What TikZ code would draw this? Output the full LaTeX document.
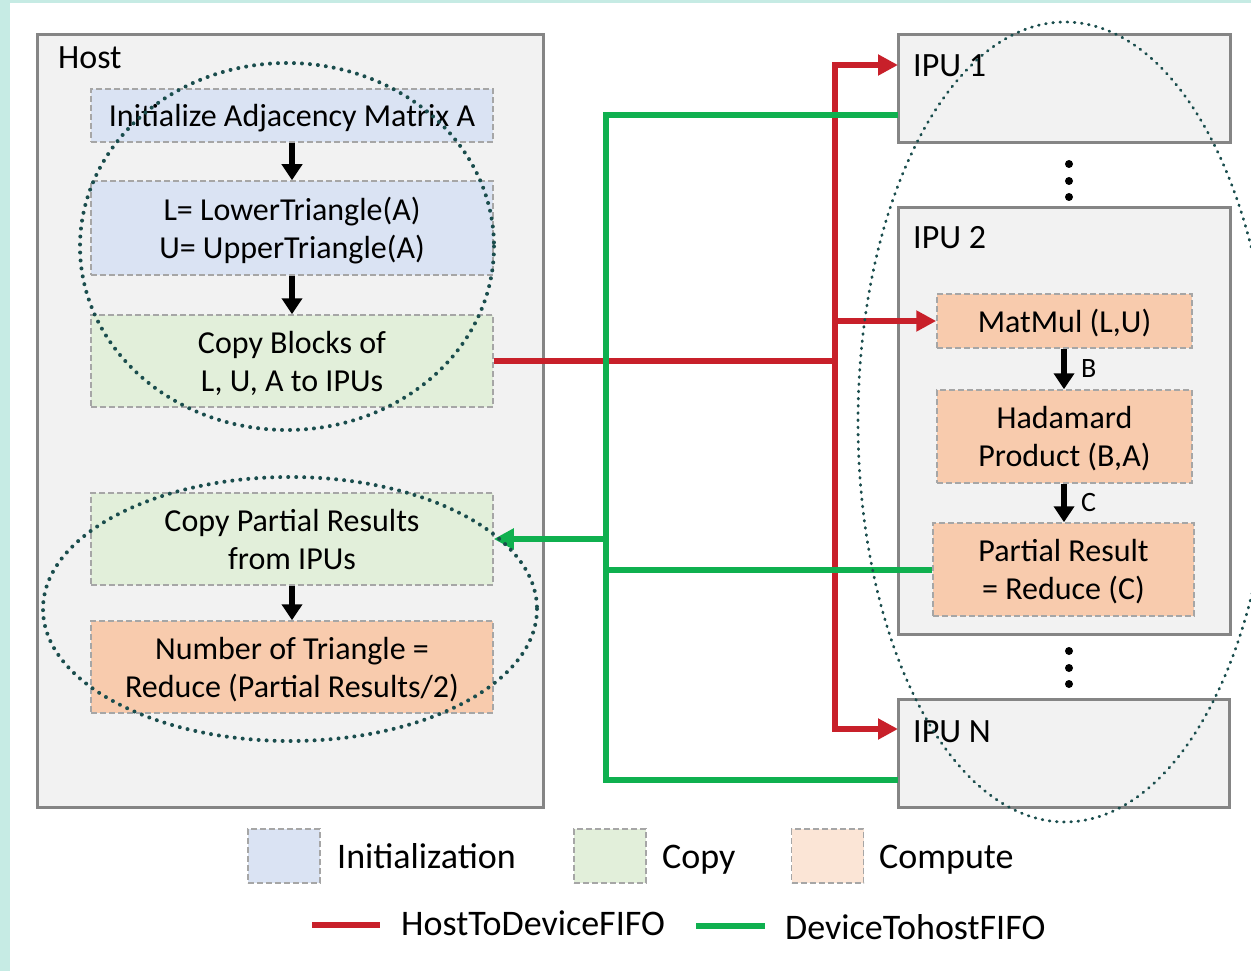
\documentclass[tikz,border=0pt]{standalone}
\usepackage{fontspec}
\setmainfont{Carlito}
\usetikzlibrary{arrows.meta}
\definecolor{bgteal}{HTML}{C6EBE4}
\definecolor{hostfill}{HTML}{F2F2F2}
\definecolor{hostdraw}{HTML}{858585}
\definecolor{initfill}{HTML}{DAE3F3}
\definecolor{copyfill}{HTML}{E2EFDA}
\definecolor{compfill}{HTML}{F8CBAD}
\definecolor{complight}{HTML}{FBE5D6}
\definecolor{dashgray}{HTML}{A6A6A6}
\definecolor{fifored}{HTML}{C8202A}
\definecolor{fifogreen}{HTML}{0FB04F}
\definecolor{dotteal}{HTML}{1A4D4D}
\begin{document}
\begin{tikzpicture}[x=1pt,y=-1pt,
  mainfont/.style={font=\fontsize{32}{38}\selectfont},
  bigfont/.style={font=\fontsize{34}{40}\selectfont},
  container/.style={draw=hostdraw,fill=hostfill,line width=3pt,inner sep=0pt},
  stepbox/.style={draw=dashgray,dash pattern=on 6pt off 3pt,line width=1.5pt,inner sep=0pt,align=center,text depth=0pt,mainfont},
  initbox/.style={stepbox,fill=initfill},
  copybox/.style={stepbox,fill=copyfill},
  compbox/.style={stepbox,fill=compfill},
  flow/.style={line width=6pt,-{Triangle[length=16pt,width=20pt]}},
  redline/.style={draw=fifored,line width=6pt},
  greenline/.style={draw=fifogreen,line width=6pt},
  fifotip/.style={-{Triangle[length=20pt,width=20pt]}},
  groupring/.style={draw=dotteal,line width=4pt,line cap=round,dash pattern=on 0pt off 8pt},
  groupringthin/.style={draw=dotteal,line width=2.8pt,line cap=round,dash pattern=on 0.8pt off 6.4pt},
  legendsq/.style={draw=dashgray,dash pattern=on 6pt off 3pt,line width=1.5pt,minimum width=72pt,minimum height=54pt,inner sep=0pt},
  legendtext/.style={anchor=base west,inner sep=0pt,font=\fontsize{36}{40}\selectfont},
  label/.style={anchor=base west,inner sep=0pt,bigfont},
  edgelabel/.style={anchor=west,inner sep=0pt,font=\fontsize{28}{32}\selectfont}
]
\useasboundingbox (0,0) rectangle (1251,971);
\clip (0,0) rectangle (1251,971);
\fill[bgteal] (0,0) rectangle (1251,971);
\fill[white] (10,3) rectangle (1251,971);

% Host side
\node[container,minimum width=506pt,minimum height=772pt] (host) at (290,421) {};
\node[label] (hostlbl) at (58,69) {Host};
\node[initbox,minimum width=402pt,minimum height=53pt] (init) at (292,115.5) {Initialize Adjacency Matrix A};
\node[initbox,minimum width=402pt,minimum height=94pt] (lu) at (292,228) {L= LowerTriangle(A)\\U= UpperTriangle(A)};
\node[copybox,minimum width=402pt,minimum height=92pt] (cpb) at (292,361) {Copy Blocks of\\L, U, A to IPUs};
\node[copybox,minimum width=402pt,minimum height=92pt] (cpr) at (292,539) {Copy Partial Results\\from IPUs};
\node[compbox,minimum width=402pt,minimum height=92pt] (ntri) at (292,667) {Number of Triangle =\\Reduce (Partial Results/2)};
\draw[flow] (init) -- (lu);
\draw[flow] (lu) -- (cpb);
\draw[flow] (cpr) -- (ntri);

% IPU side
\node[container,minimum width=332pt,minimum height=108pt] (ipu1) at (1064,89) {};
\node[label] (ipu1lbl) at (913,77) {IPU 1};
\node[container,minimum width=332pt,minimum height=427pt] (ipu2) at (1064,420.5) {};
\node[label] (ipu2lbl) at (913,248) {IPU 2};
\node[container,minimum width=331pt,minimum height=108pt] (ipuN) at (1063.5,753) {};
\node[label] (ipuNlbl) at (913,742) {IPU N};
\node[compbox,minimum width=255pt,minimum height=54pt] (mm) at (1064.5,321) {MatMul (L,U)};
\node[compbox,minimum width=255pt,minimum height=93pt] (had) at (1064.5,436.5) {Hadamard\\Product (B,A)};
\node[compbox,minimum width=261pt,minimum height=93pt] (pr) at (1063.5,569.5) {Partial Result\\= Reduce (C)};
\draw[flow] (mm.south -| 1064,0) -- (had.north -| 1064,0) node[midway,edgelabel,xshift=14pt] (blbl) {B};
\draw[flow] (had.south -| 1064,0) -- (pr.north -| 1064,0) node[midway,edgelabel,xshift=14pt] (clbl) {C};
\foreach \yy in {164,181,197,651,668,684} \fill (1069,\yy) circle (4pt);

% connectors
\coordinate (rmid) at (835,361);
\coordinate (ipu1in) at (898,65);
\coordinate (ipuNin) at (898,729);
\coordinate (gtop) at (898,115);
\coordinate (gbot) at (898,780);
\coordinate (gmid) at (606,539);
\draw[redline] (cpb.east) -- (rmid);
\draw[redline,fifotip] (rmid) |- (ipu1in);
\draw[redline,fifotip] (rmid) |- (ipuNin);
\draw[redline,fifotip] (rmid |- mm.west) -- (mm.west);
\draw[greenline] (gtop) -| (gmid) |- (gbot);
\draw[greenline] (pr.west) -- (pr.west -| gmid);
\draw[greenline,fifotip] (gmid) -- (cpr.east);

% dotted groupings
\draw[groupring] (287,246.5) ellipse [x radius=207, y radius=183.5];
\draw[groupring] (290,609) ellipse [x radius=247, y radius=132];
\draw[groupringthin] (1065,422) ellipse [x radius=207, y radius=400];

% legend
\node[legendsq,fill=initfill] (lginit) at (284,856) {};
\node[legendtext] (lginittxt) at (337,868) {Initialization};
\node[legendsq,fill=copyfill] (lgcopy) at (610,856) {};
\node[legendtext] (lgcopytxt) at (662,868) {Copy};
\node[legendsq,fill=complight] (lgcomp) at (827.5,856) {};
\node[legendtext] (lgcomptxt) at (879,868) {Compute};
\coordinate (lgr1) at (312,925);
\coordinate (lgr2) at (380,925);
\draw[redline] (lgr1) -- (lgr2);
\node[legendtext] (lgredtxt) at (401,935) {HostToDeviceFIFO};
\coordinate (lgg1) at (696,926);
\coordinate (lgg2) at (765,926);
\draw[greenline] (lgg1) -- (lgg2);
\node[legendtext] (lggreentxt) at (785,939) {DeviceTohostFIFO};
\end{tikzpicture}
\end{document}
